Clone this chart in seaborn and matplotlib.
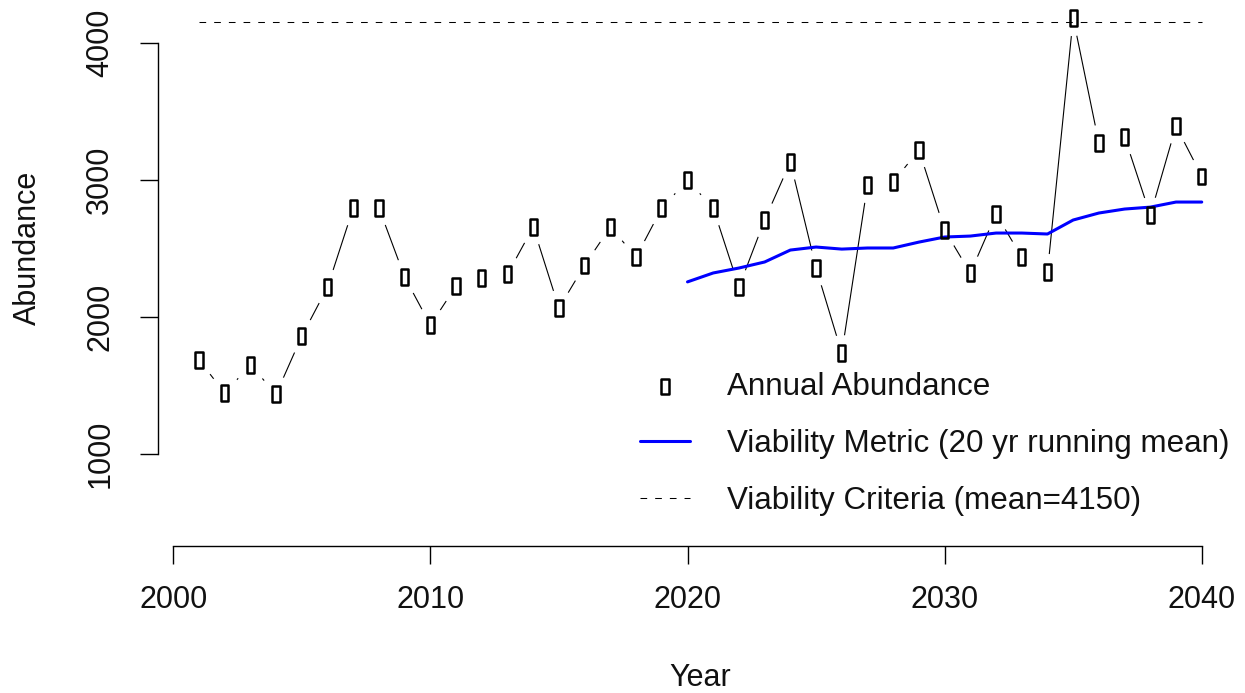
import matplotlib
matplotlib.use("Agg")
import matplotlib.pyplot as plt
from matplotlib.path import Path
import seaborn as sns

# Annual abundance, 2001-2040
years = list(range(2001, 2041))
abundance = [1688, 1447, 1651, 1439, 1862, 2219, 2795, 2795, 2292, 1942,
             2227, 2285, 2314, 2657, 2066, 2379, 2657, 2438, 2795, 2999,
             2795, 2219, 2708, 3131, 2358, 1738, 2963, 2985, 3219, 2635,
             2321, 2752, 2438, 2329, 4180, 3269, 3313, 2744, 3393, 3028]

# Viability metric (20 yr running mean), 2020-2040
mean_years = list(range(2020, 2041))
running_mean = [2257, 2322, 2358, 2402, 2489, 2511, 2496, 2504, 2504, 2547,
                2584, 2591, 2613, 2613, 2606, 2708, 2759, 2788, 2802, 2839, 2839]

criteria = 4150
x_ticks = [2000, 2010, 2020, 2030, 2040]
y_ticks = [1000, 2000, 3000, 4000]

sns.set_theme(style="white")
plt.rcParams['font.family'] = ['Liberation Sans', 'DejaVu Sans']

W, H = 1245, 693
fig = plt.figure(figsize=(W / 100, H / 100), dpi=100)

# plot region in pixels (R style, no box)
left_px, right_px, bottom_px, top_px = 158.3, 1240.3, 546.0, 8.5
ax = fig.add_axes([left_px / W, 1 - bottom_px / H,
                   (right_px - left_px) / W, (bottom_px - top_px) / H])
ax.set_xlim(1999.417, 2041.5)
ax.set_ylim(331.5, 4250)

# type="b" look: line with gaps around the points
sns.lineplot(x=years, y=abundance, color='black', linewidth=0.8, zorder=1, ax=ax)
sns.scatterplot(x=years, y=abundance, marker='o', s=26 ** 2, color='white',
                edgecolor='none', linewidth=0, zorder=2, ax=ax)

sns.lineplot(x=mean_years, y=running_mean, color='#0000ff', linewidth=2.2,
             zorder=3, ax=ax)
crit = ax.hlines(criteria, years[0], years[-1], colors='black', linewidth=0.75,
                 linestyles=(0, (6.4, 7.7)), zorder=3)

box = Path([(-0.24, -0.5), (0.24, -0.5), (0.24, 0.5), (-0.24, 0.5), (-0.24, -0.5)],
           [Path.MOVETO, Path.LINETO, Path.LINETO, Path.LINETO, Path.CLOSEPOLY])
sns.scatterplot(x=years, y=abundance, marker=box, s=120, facecolor='none',
                edgecolor='black', linewidth=1.8, zorder=4, ax=ax)

# R-like axes
for side in ['top', 'right']:
    ax.spines[side].set_visible(False)
for side in ['left', 'bottom']:
    ax.spines[side].set_color('black')
    ax.spines[side].set_linewidth(1.0)
ax.spines['left'].set_bounds(y_ticks[0], y_ticks[-1])
ax.spines['bottom'].set_bounds(x_ticks[0], x_ticks[-1])
ax.set_xticks(x_ticks)
ax.set_yticks(y_ticks)
ax.set_xticklabels([str(t) for t in x_ticks])
ax.set_yticklabels([str(t) for t in y_ticks], rotation=90, va='center')
ax.tick_params(axis='both', direction='out', length=13, width=1.0, color='black',
               labelsize=22, labelcolor='#111111', left=True, bottom=True)
ax.tick_params(axis='x', pad=15)
ax.tick_params(axis='y', pad=18)
ax.grid(False)
ax.set_xlabel('')
ax.set_ylabel('')

fig.text(700 / W, 1 - 678 / H, 'Year', ha='center', va='center', fontsize=22,
         color='#111111')
fig.text(28 / W, 1 - 248 / H, 'Abundance', ha='center', va='center',
         rotation=90, fontsize=22, color='#111111')

handles = [ax.collections[-1], ax.lines[1], crit]
labels = ['Annual Abundance', 'Viability Metric (20 yr running mean)',
          'Viability Criteria (mean=4150)']
leg = ax.legend(handles, labels, loc='upper left',
                bbox_to_anchor=(640 / W, 1 - 372 / H),
                bbox_transform=fig.transFigure, frameon=False, fontsize=22.6,
                handlelength=1.6, handletextpad=1.17, labelspacing=0.86,
                borderpad=0, borderaxespad=0)
for t in leg.get_texts():
    t.set_color('#111111')

fig.savefig('out.png', dpi=100)
